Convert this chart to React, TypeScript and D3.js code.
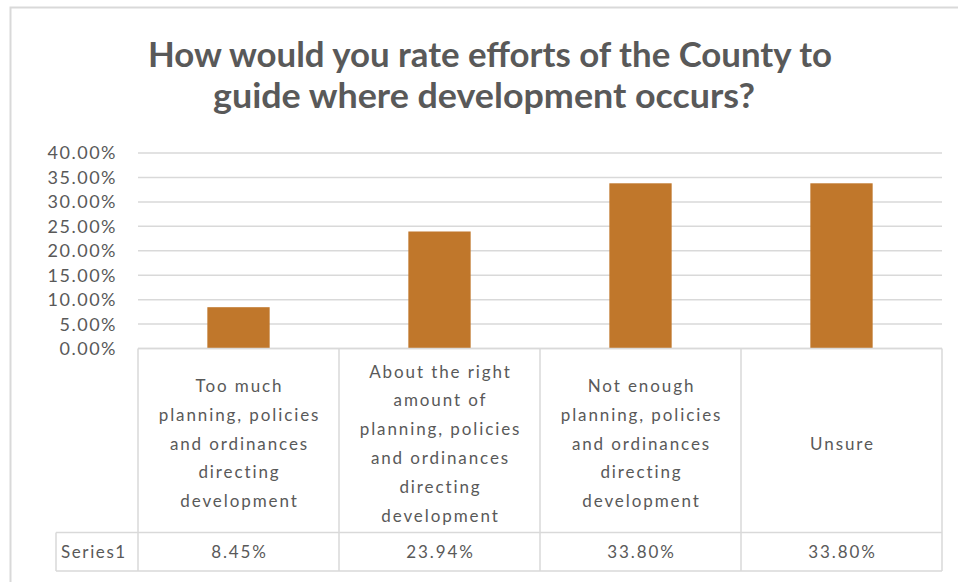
import React from "react";
import * as d3 from "d3";

const titleLines = [
  "How would you rate efforts of the County to",
  "guide where development occurs?",
];
const categories = [
  "Too much\nplanning, policies\nand ordinances\ndirecting\ndevelopment",
  "About the right\namount of\nplanning, policies\nand ordinances\ndirecting\ndevelopment",
  "Not enough\nplanning, policies\nand ordinances\ndirecting\ndevelopment",
  "Unsure",
];
const seriesName = "Series1";
const values = [0.0845, 0.2394, 0.338, 0.338];
const yTicks = [0, 0.05, 0.1, 0.15, 0.2, 0.25, 0.3, 0.35, 0.4];

const W = 958;
const H = 582;
const plotL = 138;
const plotR = 942;
const plotTop = 153;
const plotBottom = 348.5;
const catRowBottom = 532.5;
const serRowBottom = 571;
const serLabelLeft = 56;
const gridColor = "#d9d9d9";
const textColor = "#595959";
const barColor = "#C0772B";
const bodyFont = "Lato, 'Open Sans', sans-serif";

export default function App() {
  const col = d3.scaleBand<string>().domain(categories).range([plotL, plotR]).padding(0);
  const x = d3
    .scaleBand<string>()
    .domain(categories)
    .range([plotL, plotR])
    .paddingInner(0.69)
    .paddingOuter(0.345);
  const y = d3.scaleLinear().domain([0, 0.4]).range([plotBottom, plotTop]);
  const fmt = d3.format(".2%");
  const lineH = 28.8;
  const catCenterBase = 449.5;

  return (
    <svg
      width={W}
      height={H}
      style={{ position: "absolute", left: 0, top: 0, background: "#fff" }}
    >
      <rect x={0} y={0} width={W} height={H} fill="#fff" />
      <rect
        x={10.5}
        y={7.5}
        width={1200}
        height={1200}
        fill="none"
        stroke={gridColor}
        strokeWidth={2}
      />
      {/* title */}
      <text
        fontFamily="Lato, 'Open Sans', sans-serif"
        fontWeight={700}
        fontSize={34.5}
        fill={textColor}
        textAnchor="middle"
      >
        <tspan x={490} y={67} textLength={684} lengthAdjust="spacingAndGlyphs">
          {titleLines[0]}
        </tspan>
        <tspan x={484} y={108} textLength={542} lengthAdjust="spacingAndGlyphs">
          {titleLines[1]}
        </tspan>
      </text>
      {/* gridlines */}
      {yTicks.map((t) => (
        <line
          key={"g" + t}
          x1={plotL}
          x2={plotR}
          y1={y(t)}
          y2={y(t)}
          stroke={gridColor}
          strokeWidth={1.5}
        />
      ))}
      {/* y tick labels */}
      {yTicks.map((t) => (
        <text
          key={"t" + t}
          x={117}
          y={y(t)}
          dy="0.36em"
          textAnchor="end"
          fontFamily={bodyFont}
          fontSize={18}
          letterSpacing={1.5}
          fill={textColor}
        >
          {fmt(t)}
        </text>
      ))}
      {/* bars */}
      {categories.map((c, i) => (
        <rect
          key={"b" + i}
          x={x(c)}
          y={y(values[i])}
          width={x.bandwidth()}
          height={y(0) - y(values[i])}
          fill={barColor}
        />
      ))}
      {/* data table */}
      <g stroke={gridColor} strokeWidth={1.5} fill="none">
        <line x1={plotL} x2={plotR} y1={plotBottom} y2={plotBottom} />
        {categories.map((c, i) => (
          <line
            key={"v" + i}
            x1={col(c)}
            x2={col(c)}
            y1={plotBottom}
            y2={serRowBottom}
          />
        ))}
        <line x1={plotR} x2={plotR} y1={plotBottom} y2={serRowBottom} />
        <line x1={serLabelLeft} x2={plotR} y1={catRowBottom} y2={catRowBottom} />
        <line x1={serLabelLeft} x2={plotR} y1={serRowBottom} y2={serRowBottom} />
        <line x1={serLabelLeft} x2={serLabelLeft} y1={catRowBottom} y2={serRowBottom} />
      </g>
      {categories.map((c, i) => {
        const lines = c.split("\n");
        const cx = (col(c) as number) + col.bandwidth() / 2;
        return (
          <text
            key={"c" + i}
            textAnchor="middle"
            fontFamily={bodyFont}
            fontSize={17}
            letterSpacing={1.9}
            fill={textColor}
          >
            {lines.map((ln, j) => (
              <tspan
                key={j}
                x={cx + 1}
                y={catCenterBase + (j - (lines.length - 1) / 2) * lineH}
              >
                {ln}
              </tspan>
            ))}
          </text>
        );
      })}
      <text
        x={61}
        y={558}
        fontFamily={bodyFont}
        fontSize={17}
        letterSpacing={1.6}
        fill={textColor}
      >
        {seriesName}
      </text>
      {categories.map((c, i) => (
        <text
          key={"s" + i}
          x={(col(c) as number) + col.bandwidth() / 2 + 1}
          y={558}
          textAnchor="middle"
          fontFamily={bodyFont}
          fontSize={17}
          letterSpacing={1.9}
          fill={textColor}
        >
          {fmt(values[i])}
        </text>
      ))}
    </svg>
  );
}
